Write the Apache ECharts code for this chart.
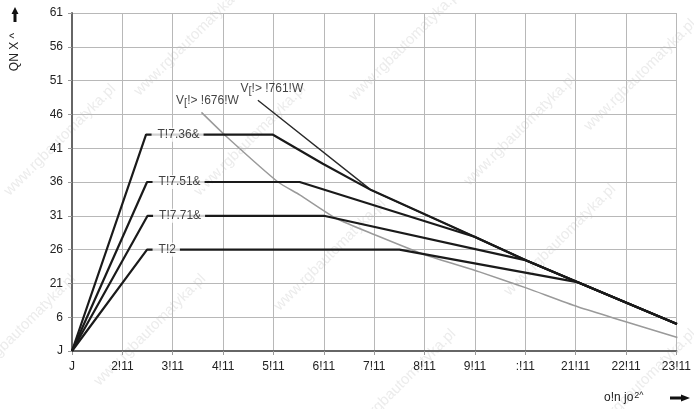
<!DOCTYPE html>
<html>
<head>
<meta charset="utf-8">
<script src="https://cdn.jsdelivr.net/npm/echarts@6/dist/echarts.min.js"></script>
<style>
html,body{margin:0;padding:0;background:#fff;}
#c{width:694px;height:409px;}
</style>
</head>
<body>
<div id="c"></div>
<script>
// Tick labels (as printed in the reference)
const xTickLabels = ['J','2!11','3!11','4!11','5!11','6!11','7!11','8!11','9!11',':!11','21!11','22!11','23!11'];
const yTickLabels = ['J','6','21','26','31','36','41','46','51','56','61'];

// Curve names
const curveNames = ['T!7.36&','T!7.51&','T!7.71&','T!2'];
const limitNames = ['V[!> !676!W','V[!> !761!W'];

// Torque curves [x, y]
const curveT736 = [[0,0],[1.47,32],[3.99,32],[4.98,27.7],[5.94,23.8],[7.99,16.9],[9.02,13.4],[10.03,10.2],[12.01,4.0]];
const curveT751 = [[0,0],[1.49,25],[4.52,25],[7.99,16.9],[9.02,13.4],[10.03,10.2],[12.01,4.0]];
const curveT771 = [[0,0],[1.50,20],[5.00,20],[9.02,13.4],[10.03,10.2],[12.01,4.0]];
const curveT2   = [[0,0],[1.49,15],[6.50,15],[10.03,10.2],[12.01,4.0]];

// Voltage limit curves
const limit676 = [[2.57,35.3],[3.07,31.7],[4.09,25.0],[4.52,23.1],[5.25,19.6],[6.01,17.2],[7.02,14.2],[8.09,11.7],[9.03,9.3],[10.04,6.55],[12.02,2.0]];
const limit761 = [[3.69,37.1],[5.94,23.8],[7.99,16.9],[9.02,13.4],[10.03,10.2],[12.01,4.0]];

const chart = echarts.init(document.getElementById('c'), null, {renderer:'canvas'});
const FONT = 'Liberation Sans, Arial, sans-serif';

const torqueCurves = [curveT736, curveT751, curveT771, curveT2];

const series = [];
series.push({
  type:'line', data: limit676, showSymbol:false, smooth:0.2, silent:true, z:2,
  lineStyle:{color:'#9a9a9a', width:1.5}
});
series.push({
  type:'line', data: limit761, showSymbol:false, silent:true, z:3,
  lineStyle:{color:'#2a2a2a', width:1.4}
});
torqueCurves.forEach((c)=>{
  series.push({
    type:'line', data:c, showSymbol:false, silent:true, z:4,
    lineStyle:{color:'#1a1a1a', width:2.2}
  });
});
// Curve labels anchored at leader tops
series.push({
  type:'scatter', symbolSize:1, silent:true, z:10,
  itemStyle:{color:'rgba(0,0,0,0)'},
  data: torqueCurves.map((c,i)=>({value:c[1], name:curveNames[i]})),
  label:{
    show:true, position:'right', distance:5,
    formatter:p=>p.name, color:'#111', fontSize:12, fontFamily:FONT,
    backgroundColor:'#fff', padding:[1,4,1,6]
  }
});
// Limit labels anchored at the start of each limit curve
const limitCurves = [limit676, limit761];
const limitOffsets = [[6,0],[14,0]];
series.push({
  type:'scatter', symbolSize:1, silent:true, z:10,
  itemStyle:{color:'rgba(0,0,0,0)'},
  data: limitCurves.map((c,i)=>({value:c[0], name:limitNames[i],
     label:{offset:limitOffsets[i]}})),
  label:{
    show:true, position:'top', distance:3,
    formatter:p=>'V{s|[}' + p.name.slice(2),
    color:'#111', fontSize:12, fontFamily:FONT,
    rich:{ s:{fontSize:11, color:'#111', fontFamily:FONT, padding:[5,0,0,0]} }
  }
});

// Watermark
const wm = [];
const wmPos = [[60,140],[190,40],[405,45],[640,75],[150,330],[330,255],[560,240],[400,385],[640,385],[20,330],[520,130],[250,140]];
wmPos.forEach(p=>wm.push({
  type:'text', x:p[0], y:p[1], rotation:Math.PI/4, z:0, silent:true,
  style:{text:'www.rgbautomatyka.pl', fill:'#ececec', font:'15px '+FONT, align:'center', verticalAlign:'middle'}
}));

chart.setOption({
  animation:false,
  backgroundColor:'#fff',
  grid:{left:72, right:16, top:13, bottom:58},
  xAxis:{
    type:'value', min:0, max:12, interval:1,
    axisLine:{lineStyle:{color:'#666', width:2}},
    axisTick:{show:true, length:4, lineStyle:{color:'#999'}},
    splitLine:{show:true, lineStyle:{color:'#b8b8b8', width:1}},
    axisLabel:{formatter:v=>xTickLabels[Math.round(v)], margin:10, fontSize:12, color:'#222', fontFamily:FONT}
  },
  yAxis:{
    type:'value', min:0, max:50, interval:5,
    axisLine:{show:true, lineStyle:{color:'#666', width:2}},
    axisTick:{show:true, length:4, lineStyle:{color:'#999'}},
    splitLine:{show:true, lineStyle:{color:'#b8b8b8', width:1}},
    axisLabel:{formatter:v=>yTickLabels[Math.round(v/5)], margin:9, fontSize:12, color:'#222', fontFamily:FONT}
  },
  graphic:[].concat(wm, [
    {type:'text', x:15, y:52, rotation:Math.PI/2, z:20,
     style:{text:'QN X ^', fill:'#222', font:'12px '+FONT, align:'center', verticalAlign:'middle'}},
    {type:'polygon', z:20, shape:{points:[[13.5,22],[16.5,22],[16.5,14],[18.5,14],[15,7],[11.5,14],[13.5,14]]}, style:{fill:'#111'}},
    {type:'text', x:604, y:398, z:20,
     style:{text:'o!n jo{s|2^}', fill:'#222', font:'12px '+FONT, align:'left', verticalAlign:'middle',
            rich:{s:{fontSize:9, fill:'#222', padding:[0,0,5,1]}}}},
    {type:'polygon', z:20, shape:{points:[[670,396.5],[681,396.5],[681,394.5],[690,398],[681,401.5],[681,399.5],[670,399.5]]}, style:{fill:'#111'}}
  ]),
  series:series
});
</script>
</body>
</html>
